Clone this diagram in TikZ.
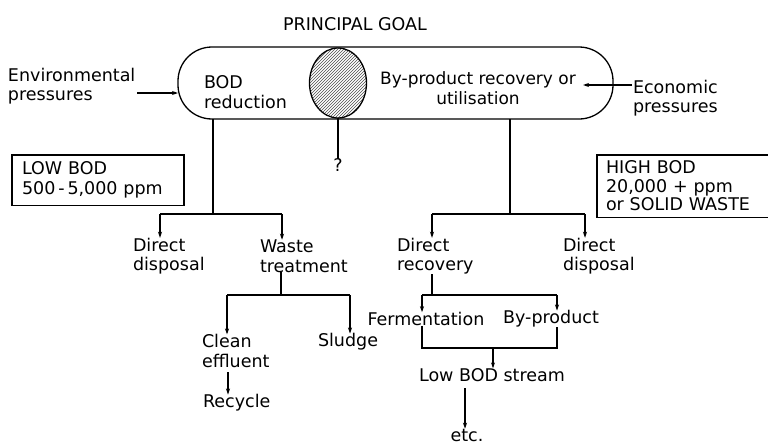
\documentclass[tikz,border=0pt]{standalone}
\usepackage{fontspec}
\setmainfont{DejaVu Sans}
\usetikzlibrary{arrows.meta,patterns,shapes.geometric}
\begin{document}
\begin{tikzpicture}[x=1pt,y=-1pt,
  every node/.style={inner sep=0pt,outer sep=0pt},
  lbl/.style={font=\fontsize{17.5}{19.5}\selectfont,align=left,anchor=west},
  lblc/.style={font=\fontsize{17.5}{19.5}\selectfont,align=center},
  ln/.style={line width=1.1pt},
  arr/.style={line width=1.1pt,-{Stealth[length=6pt,width=4pt]}},
  bx/.style={draw,line width=1.2pt}]
\useasboundingbox (0,0) rectangle (768,447);
% top
\node[lblc] (goal) at (355,24) {PRINCIPAL GOAL};
\draw[line width=1.3pt,rounded corners=34pt] (178,47) rectangle (613,119);
\coordinate (capL) at (178,93);
\coordinate (capR) at (583,85);
\node[draw,line width=1.3pt,ellipse,minimum width=57pt,minimum height=70pt,
      pattern=north east lines,pattern color=black!70] (circ) at (338,83) {};
\node[lbl] (bod) at (204,92) {BOD\\reduction};
\node[lblc,font=\fontsize{17}{19.5}\selectfont] (byp) at (478,88) {By-product recovery or\\utilisation};
\node[lbl] (env) at (8,86) {Environmental\\pressures};
\node[lbl] (eco) at (633,98) {Economic\\pressures};
\coordinate (envE) at (137,93);
\draw[arr] (envE) -- (capL);
\coordinate (ecoW) at (632,85);
\draw[arr] (ecoW) -- (capR);
% question
\node[lblc] (q) at (338,165) {?};
\draw[ln] (circ.south) -- (q.north);
% boxes
\node[bx,lbl,inner xsep=10pt,inner ysep=7pt,text width=152pt,anchor=north west] (low) at (12,155) {LOW BOD\\500\,-\,5,000 ppm};
\node[bx,lbl,inner xsep=9pt,inner ysep=6pt,text width=175pt,anchor=north west,
      font=\fontsize{17.5}{18.5}\selectfont] (high) at (597,155) {HIGH BOD\\20,000 + ppm\\or SOLID WASTE};
% left branch
\coordinate (lt) at (213,119);
\coordinate (lj) at (213,214);
\coordinate (la) at (160,214);
\coordinate (lb) at (282,214);
\node[lbl] (ldd) at (133,256) {Direct\\disposal};
\node[lbl] (wt) at (260,256) {Waste\\treatment};
\draw[ln] (lt) -- (lj);
\draw[ln] (la) -- (lb);
\draw[arr] (la) -- (la |- ldd.north);
\draw[arr] (lb) -- (lb |- wt.north);
% right branch
\coordinate (rt) at (510,119);
\coordinate (rj) at (510,214);
\coordinate (ra) at (432,214);
\coordinate (rb) at (585,214);
\node[lbl] (dr) at (397,256) {Direct\\recovery};
\node[lbl] (rdd) at (563,256) {Direct\\disposal};
\draw[ln] (rt) -- (rj);
\draw[ln] (ra) -- (rb);
\draw[arr] (ra) -- (ra |- dr.north);
\draw[arr] (rb) -- (rb |- rdd.north);
% waste treatment
\coordinate (wj) at (281,295);
\coordinate (wa) at (227,295);
\coordinate (wb) at (350,295);
\node[lbl] (ce) at (202,351) {Clean\\effluent};
\node[lbl] (sl) at (318,342) {Sludge};
\node[lbl] (rc) at (203,403) {Recycle};
\draw[ln] (wt.south -| wj) -- (wj);
\draw[ln] (wa) -- (wb);
\draw[arr] (wa) -- (wa |- ce.north);
\draw[arr] (wb) -- (wb |- sl.north);
\coordinate (ca) at (228,372);
\draw[arr] (ca) -- (ca |- rc.north);
% direct recovery
\coordinate (dj) at (432,295);
\coordinate (da) at (422,295);
\coordinate (db) at (557,295);
\node[lblc] (fe) at (426,319) {Fermentation};
\node[lblc] (bp) at (551,319) {By-product};
\draw[ln] (dr.south -| dj) -- (dj);
\draw[ln] (da) -- (db);
\draw[arr] (da) -- (da |- fe.north);
\draw[arr] (db) -- (db |- bp.north);
\node[lblc] (lbs) at (492,375) {Low BOD stream};
\coordinate (ba) at (422,348);
\coordinate (bb) at (557,348);
\coordinate (bm) at (493,348);
\draw[ln] (fe.south -| ba) -- (ba) -- (bb) -- (bb |- bp.south);
\draw[arr] (bm) -- (bm |- lbs.north);
\node[lblc] (etc) at (467,435) {etc.};
\coordinate (la2) at (465,388);
\draw[arr] (la2) -- (la2 |- etc.north);
\end{tikzpicture}
\end{document}
